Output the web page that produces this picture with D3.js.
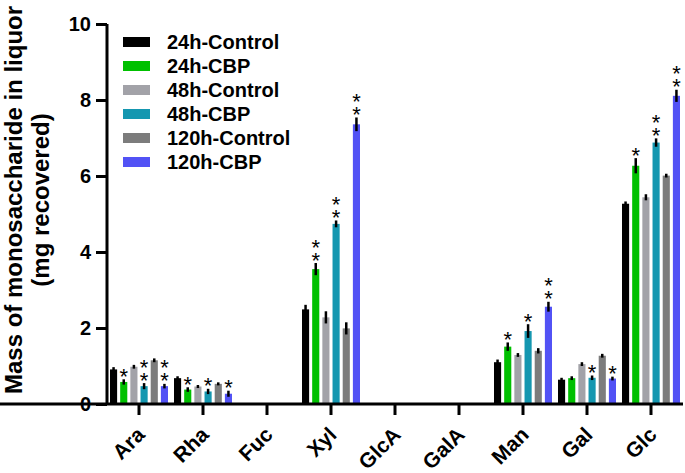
<!DOCTYPE html>
<html><head><meta charset="utf-8">
<script src="https://cdn.jsdelivr.net/npm/d3@7"></script>
<style>body{margin:0;background:#fff}svg{display:block}text{font-family:"Liberation Sans",Arial,sans-serif;font-weight:bold}</style>
</head><body><svg id="c" width="685" height="473"></svg>
<script>
const categories = ["Ara","Rha","Fuc","Xyl","GlcA","GalA","Man","Gal","Glc"];
const seriesNames = ["24h-Control","24h-CBP","48h-Control","48h-CBP","120h-Control","120h-CBP"];
const seriesColors = ["#000000","#00c000","#a2a2a8","#1597b0","#7c7c7c","#5252f5"];
const values = [
  [0.91,0.68,0,2.49,0,0,1.10,0.64,5.27],
  [0.58,0.38,0,3.55,0,0,1.51,0.68,6.27],
  [0.98,0.46,0,2.28,0,0,1.29,1.05,5.44],
  [0.47,0.33,0,4.74,0,0,1.92,0.69,6.88],
  [1.15,0.53,0,1.99,0,0,1.40,1.27,6.01],
  [0.47,0.27,0,7.36,0,0,2.56,0.67,8.11]
];
const errors = [
  [0.06,0.05,0,0.12,0,0,0.07,0.05,0.06],
  [0.07,0.06,0,0.16,0,0,0.11,0.05,0.20],
  [0.05,0.04,0,0.16,0,0,0.05,0.05,0.08],
  [0.08,0.07,0,0.09,0,0,0.18,0.06,0.11],
  [0.05,0.04,0,0.16,0,0,0.07,0.05,0.05],
  [0.06,0.08,0,0.18,0,0,0.13,0.05,0.16]
];
const stars = [
  [0,0,0,0,0,0,0,0,0],
  [1,1,0,2,0,0,1,0,1],
  [0,0,0,0,0,0,0,0,0],
  [2,1,0,2,0,0,1,1,2],
  [0,0,0,0,0,0,0,0,0],
  [2,1,0,2,0,0,2,1,2]
];
const yTicks = [0,2,4,6,8,10];

const svg = d3.select("#c");
const x = d3.scaleBand().domain(categories).range([107,683]).padding(0);
const y = d3.scaleLinear().domain([0,10]).range([404,24]);
const sub = d3.scaleBand().domain(d3.range(seriesNames.length)).range([0,58]).paddingInner(0.3);
const off = (x.bandwidth()-58)/2;

const g = svg.append("g");
seriesNames.forEach((s,si)=>{
  categories.forEach((c,ci)=>{
    const v = values[si][ci];
    if (v<=0) return;
    const bx = x(c)+off+sub(si);
    g.append("rect").attr("x",bx).attr("y",y(v)).attr("width",sub.bandwidth()).attr("height",y(0)-y(v)).attr("fill",seriesColors[si]);
    const cx = bx+sub.bandwidth()/2;
    const e = errors[si][ci];
    g.append("line").attr("x1",cx).attr("x2",cx).attr("y1",y(v-e)).attr("y2",y(v+e)).attr("stroke","#000").attr("stroke-width",2.5);
    for (let k=0;k<stars[si][ci];k++){
      const cy = y(v+e)-8-k*13;
      g.append("text").attr("x",cx).attr("y",cy+12.5).attr("text-anchor","middle").attr("font-size",22).style("font-weight","normal").text("*");
    }
  });
});

// axes
const ya = svg.append("g").attr("transform","translate(107,0)").call(d3.axisLeft(y).tickValues(yTicks).tickSize(11).tickPadding(5));
const xa = svg.append("g").attr("transform","translate(0,404)").call(d3.axisBottom(x).tickSize(11).tickFormat(""));
[ya,xa].forEach(a=>{a.select(".domain").attr("stroke-width",3).attr("stroke","#000");a.selectAll(".tick line").attr("stroke-width",3).attr("stroke","#000");});
ya.select(".domain").attr("d","M0,24V404");
xa.select(".domain").attr("d","M0,0H683");
ya.selectAll(".tick text").attr("font-size",20).attr("fill","#000").style("font-family","Liberation Sans, Arial, sans-serif").style("font-weight","bold");

svg.append("g").selectAll("text").data(categories).join("text")
  .attr("transform",d=>`translate(${x(d)+x.bandwidth()/2+7},${436}) rotate(-45)`)
  .attr("text-anchor","end").attr("font-size",21).text(d=>d);

// y label
svg.append("text").attr("transform","translate(22,200) rotate(-90)").attr("text-anchor","middle").attr("font-size",24).text("Mass of monosaccharide in liquor");
svg.append("text").attr("transform","translate(49,200) rotate(-90)").attr("text-anchor","middle").attr("font-size",24).text("(mg recovered)");

// legend
const lg = svg.append("g");
seriesNames.forEach((s,i)=>{
  const ly = 42+i*24;
  lg.append("rect").attr("x",123).attr("y",ly-5).attr("width",27).attr("height",10).attr("fill",seriesColors[i]);
  lg.append("text").attr("x",167).attr("y",ly+7).attr("font-size",20).text(s);
});
</script></body></html>
